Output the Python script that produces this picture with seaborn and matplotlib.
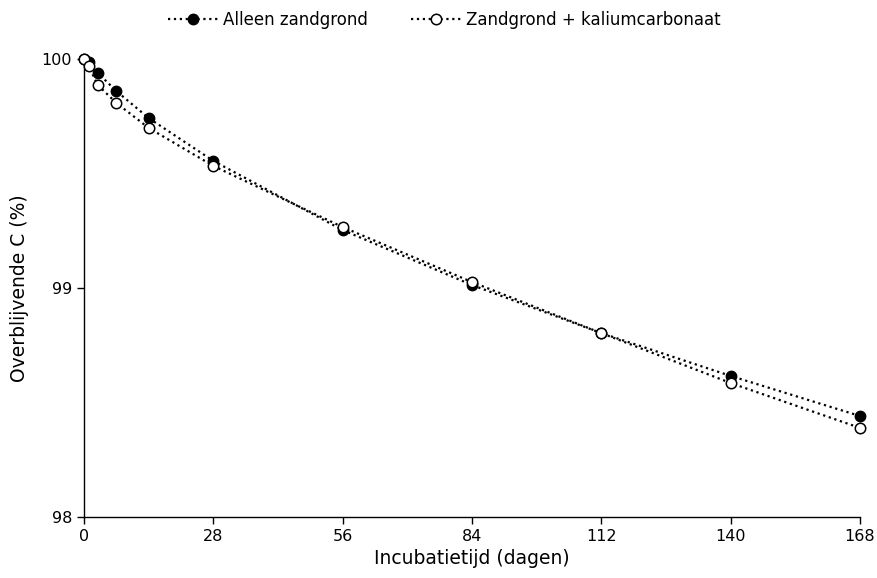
import matplotlib
matplotlib.use("Agg")
import matplotlib.pyplot as plt
import seaborn as sns
import pandas as pd

days = [0, 1, 3, 7, 14, 28, 56, 84, 112, 140, 168]
alleen = [100.0, 99.987, 99.939, 99.860, 99.742, 99.555, 99.253, 99.013, 98.803, 98.616, 98.441]
kalium = [100.0, 99.969, 99.886, 99.808, 99.699, 99.533, 99.266, 99.026, 98.803, 98.585, 98.389]
labels = ["Alleen zandgrond", "Zandgrond + kaliumcarbonaat"]
xticks = [0, 28, 56, 84, 112, 140, 168]
yticks = [98, 99, 100]

sns.set_theme(style="ticks")
plt.rcParams['font.family'] = ['DejaVu Sans']
plt.rcParams['text.color'] = 'black'
plt.rcParams['axes.labelcolor'] = 'black'
plt.rcParams['xtick.color'] = 'black'
plt.rcParams['ytick.color'] = 'black'

fig = plt.figure(figsize=(8.78, 5.78), dpi=100)
ax = fig.add_axes([84/878, 1-517/578, (860-84)/878, (517-59)/578])

df1 = pd.DataFrame({"d": days, "c": alleen})
df2 = pd.DataFrame({"d": days, "c": kalium})

sns.lineplot(data=df1, x="d", y="c", ax=ax, color="black", linestyle=":", linewidth=1.6,
             marker="o", markersize=7.5, markerfacecolor="black", markeredgecolor="black",
             markeredgewidth=1, label=labels[0], zorder=3, clip_on=False)
sns.lineplot(data=df2, x="d", y="c", ax=ax, color="black", linestyle=":", linewidth=1.6,
             marker="o", markersize=7.5, markerfacecolor="white", markeredgecolor="black",
             markeredgewidth=1.1, label=labels[1], zorder=4, clip_on=False)

ax.set_xlim(0, 168)
ax.set_ylim(98, 100)
ax.set_xticks(xticks)
ax.set_yticks(yticks)
ax.set_xticklabels([str(t) for t in xticks])
ax.set_yticklabels([str(t) for t in yticks])
ax.tick_params(axis="both", labelsize=11.5, length=5, width=1, color="black",
               labelcolor="black", direction="out")
for s in ["top", "right"]:
    ax.spines[s].set_visible(False)
for s in ["left", "bottom"]:
    ax.spines[s].set_color("black")
    ax.spines[s].set_linewidth(1)
    ax.spines[s].set_zorder(2)

ax.set_xlabel("Incubatietijd (dagen)", fontsize=13.5, labelpad=4, color="black")
ax.set_ylabel("Overblijvende C (%)", fontsize=13.5, labelpad=9, color="black")

handles, labs = ax.get_legend_handles_labels()
ax.legend_.remove()
leg = fig.legend(handles, labs, loc="center", bbox_to_anchor=(444/878, 1-20/578), ncol=2,
                 frameon=False, fontsize=12, handlelength=3.0, columnspacing=2.6,
                 handletextpad=0.3)
for t in leg.get_texts():
    t.set_color("black")

fig.savefig("out.png", dpi=100)
